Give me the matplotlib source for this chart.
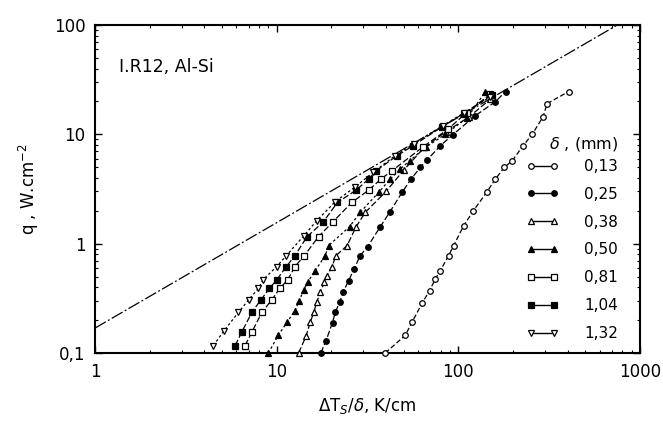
import matplotlib
matplotlib.use("Agg")
import matplotlib.pyplot as plt
from matplotlib.lines import Line2D
from matplotlib.ticker import FuncFormatter, LogLocator, NullFormatter

# Reference line (dash-dot) end points
ref_x = [1, 750]
ref_y = [0.169, 100]

# Thickness delta (mm) labels
labels = ["0,13", "0,25", "0,38", "0,50", "0,81", "1,04", "1,32"]

# delta = 0.13 mm
x_013 = [39.6, 51.0, 55.6, 63.1, 69.5, 74.7, 79.6, 88.4, 94.2, 107, 121, 143, 160, 179, 198, 227, 255, 293, 308, 405]
y_013 = [0.1, 0.145, 0.191, 0.285, 0.372, 0.476, 0.567, 0.777, 0.959, 1.46, 2.0, 2.94, 3.9, 4.98, 5.73, 7.85, 10.0, 14.5, 19.1, 24.6]

# delta = 0.25 mm
x_025 = [17.5, 18.7, 20.3, 21.0, 22.2, 23.2, 24.9, 26.7, 28.8, 31.7, 37.2, 41.8, 49.0, 54.9, 61.8, 67.2, 79.5, 93.1, 124, 160, 182]
y_025 = [0.1, 0.13, 0.19, 0.235, 0.29, 0.36, 0.46, 0.587, 0.777, 0.94, 1.43, 1.93, 2.94, 3.9, 4.98, 5.81, 7.85, 9.9, 14.8, 19.9, 24.6]

# delta = 0.38 mm
x_038 = [13.2, 14.5, 15.3, 16.0, 16.6, 17.4, 18.3, 18.9, 20.1, 21.2, 24.4, 27.4, 30.7, 40.0, 50.0, 65.0, 85.0, 115, 150]
y_038 = [0.1, 0.142, 0.191, 0.235, 0.29, 0.36, 0.444, 0.51, 0.608, 0.777, 0.96, 1.43, 1.93, 3.0, 4.7, 7.6, 10.5, 14.5, 21.0]

# delta = 0.50 mm
x_050 = [9.0, 10.2, 11.4, 12.6, 13.3, 14.1, 14.8, 16.3, 18.5, 19.3, 25.2, 28.8, 36.4, 42.2, 47.9, 53.9, 66.0, 84.8, 112, 141]
y_050 = [0.1, 0.145, 0.191, 0.244, 0.3, 0.378, 0.444, 0.567, 0.777, 0.96, 1.43, 1.93, 2.94, 3.9, 4.81, 5.73, 7.6, 10.0, 14.2, 24.6]

# delta = 0.81 mm
x_081 = [6.7, 7.3, 8.28, 9.4, 10.4, 11.5, 12.6, 14.2, 17.0, 20.3, 25.9, 32.1, 37.5, 43.1, 64.0, 88.0, 111, 150]
y_081 = [0.117, 0.155, 0.235, 0.306, 0.39, 0.466, 0.617, 0.777, 1.16, 1.57, 2.38, 3.09, 3.9, 4.64, 7.7, 11.2, 15.8, 23.3]

# delta = 1.04 mm
x_104 = [5.91, 6.42, 7.3, 8.18, 9.13, 10.0, 11.3, 12.6, 14.7, 18.0, 21.6, 27.4, 32.1, 35.3, 45.9, 56.5, 81.3, 107, 153]
y_104 = [0.117, 0.155, 0.235, 0.306, 0.39, 0.466, 0.617, 0.777, 1.16, 1.57, 2.38, 3.09, 3.9, 4.64, 6.37, 7.9, 11.7, 15.5, 22.9]

# delta = 1.32 mm
x_132 = [4.49, 5.1, 6.16, 7.0, 7.94, 8.4, 10.0, 11.3, 14.1, 16.6, 21.0, 27.0, 34.0, 45.0, 57.0, 82.0, 108, 150]
y_132 = [0.117, 0.158, 0.235, 0.306, 0.39, 0.466, 0.617, 0.777, 1.18, 1.62, 2.42, 3.3, 4.5, 6.4, 8.2, 12.0, 15.8, 22.0]

series_x = [x_013, x_025, x_038, x_050, x_081, x_104, x_132]
series_y = [y_013, y_025, y_038, y_050, y_081, y_104, y_132]

# marker, filled?, size, line style for each series
styles = [
    ("o", False, 4.0, (0, (4, 2))),
    ("o", True, 4.0, (0, (5, 2))),
    ("^", False, 4.5, (0, (5, 2))),
    ("^", True, 4.5, (0, (2, 2))),
    ("s", False, 5.0, (0, (5, 2))),
    ("s", True, 4.5, (0, (5, 2))),
    ("v", False, 4.5, (0, (2, 2))),
]

plt.rcParams["font.family"] = "DejaVu Sans"

fig = plt.figure(figsize=(6.63, 4.25), dpi=100)
ax = fig.add_axes([0.1433, 0.1694, 0.822, 0.7718])

ax.plot(ref_x, ref_y, color="black", lw=0.9, linestyle=(0, (10, 2, 1.5, 2)))

handles = []
for xs, ys, (mk, filled, ms, ls) in zip(series_x, series_y, styles):
    face = "black" if filled else "white"
    ax.plot(xs, ys, color="black", lw=0.9, linestyle=ls, marker=mk,
            markersize=ms, markerfacecolor=face, markeredgecolor="black",
            markeredgewidth=0.9, clip_on=False, zorder=3)
    handles.append(Line2D([0], [0], color="black", lw=1.0, marker=mk,
                          markersize=ms, markerfacecolor=face,
                          markeredgecolor="black", markeredgewidth=0.9))

ax.set_xscale("log")
ax.set_yscale("log")
ax.set_xlim(1, 1000)
ax.set_ylim(0.1, 100)


def comma_fmt(v, pos):
    if v >= 1:
        return "%d" % round(v)
    return ("%g" % v).replace(".", ",")


ax.xaxis.set_major_formatter(FuncFormatter(comma_fmt))
ax.yaxis.set_major_formatter(FuncFormatter(comma_fmt))
ax.xaxis.set_minor_locator(LogLocator(base=10, subs=range(2, 10)))
ax.yaxis.set_minor_locator(LogLocator(base=10, subs=range(2, 10)))
ax.xaxis.set_minor_formatter(NullFormatter())
ax.yaxis.set_minor_formatter(NullFormatter())

ax.tick_params(which="both", direction="in", top=True, right=True, labelsize=12)
ax.tick_params(which="major", length=5, width=1.0, pad=7)
ax.tick_params(which="minor", length=2.5, width=0.8)
for sp in ax.spines.values():
    sp.set_linewidth(1.5)

ax.set_xlabel(r"$\Delta$T$_S$/$\delta$, K/cm", fontsize=12)
ax.xaxis.set_label_coords(0.5, -0.13)
ax.set_ylabel(r"q , W.cm$^{-2}$", fontsize=12)
ax.yaxis.set_label_coords(-0.10, 0.5)

ax.text(0.044, 0.872, "I.R12, Al-Si", transform=ax.transAxes, fontsize=12.5,
        va="center", ha="left")

leg = ax.legend(handles, labels, title=r"$\delta$ , (mm)", loc="lower right",
                bbox_to_anchor=(0.985, -0.005), frameon=False, numpoints=2,
                handlelength=2.1, handletextpad=1.7, labelspacing=0.84,
                fontsize=11, title_fontsize=11.5)
leg._legend_box.align = "right"
leg._legend_box.sep = 4

fig.savefig("out.png", dpi=100)
